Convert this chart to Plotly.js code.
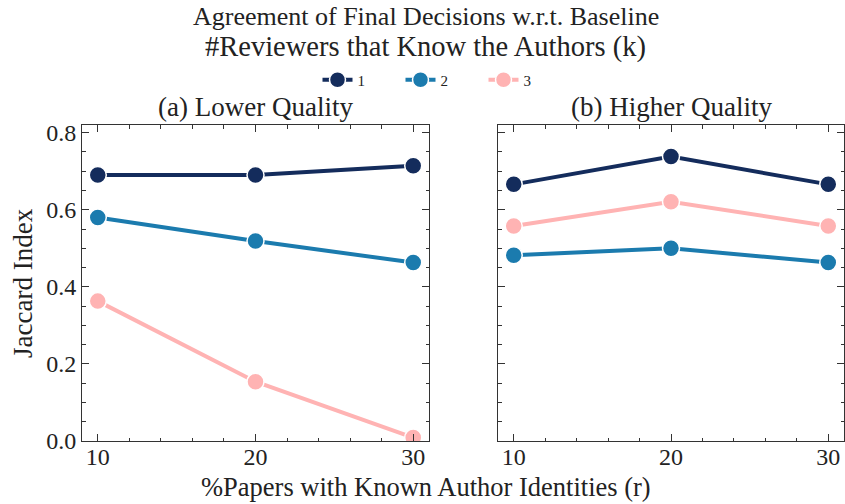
<!DOCTYPE html>
<html>
<head>
<meta charset="utf-8">
<script src="https://cdn.plot.ly/plotly-3.0.1.min.js"></script>
<style>html,body{margin:0;padding:0;background:#fff;}#chart{width:845px;height:504px;}</style>
</head>
<body>
<div id="chart"></div>
<script>
// Data
const xValues = [10, 20, 30];
const seriesNames = ["1", "2", "3"];
const seriesColors = ["#142c5c", "#1b7bae", "#ffb3b3"];
const lowerK1 = [0.690, 0.690, 0.714];
const lowerK2 = [0.580, 0.519, 0.463];
const lowerK3 = [0.363, 0.154, 0.009];
const higherK1 = [0.666, 0.738, 0.666];
const higherK2 = [0.482, 0.500, 0.463];
const higherK3 = [0.558, 0.621, 0.558];
const panelTitles = ["(a) Lower Quality", "(b) Higher Quality"];
const lower = [lowerK1, lowerK2, lowerK3];
const higher = [higherK1, higherK2, higherK3];

const FONT = "Liberation Serif, DejaVu Serif, serif";
const traces = [];
function mk(y, i, xa, ya, showlegend) {
  return {
    x: xValues, y: y, type: "scatter", mode: "lines+markers",
    name: seriesNames[i], showlegend: showlegend, legendgroup: seriesNames[i],
    xaxis: xa, yaxis: ya,
    line: {color: seriesColors[i], width: 4},
    marker: {color: seriesColors[i], size: 17, line: {color: "#ffffff", width: 1.5}}
  };
}
lower.forEach((y, i) => traces.push(mk(y, i, "x", "y", true)));
higher.forEach((y, i) => traces.push(mk(y, i, "x2", "y2", false)));

const axCommon = {
  showline: true, linecolor: "#333", linewidth: 1, mirror: "allticks",
  ticks: "inside", ticklen: 7, tickwidth: 1, tickcolor: "#333",
  showgrid: false, zeroline: false, ticklabelstandoff: 0,
  tickfont: {family: FONT, size: 24, color: "#222"}
};
const xAx = Object.assign({}, axCommon, {
  range: [9, 31], tickvals: [10, 20, 30], ticklabelstandoff: -6,
  minor: {dtick: 2, tick0: 10, ticks: "inside", ticklen: 3.5, tickcolor: "#333", showgrid: false}
});
const yAx = Object.assign({}, axCommon, {
  range: [0, 0.82], tickvals: [0, 0.2, 0.4, 0.6, 0.8], tickformat: ".1f",
  minor: {dtick: 0.05, tick0: 0, ticks: "inside", ticklen: 3.5, tickcolor: "#333", showgrid: false}
});

const layout = {
  width: 845, height: 504,
  margin: {l: 0, r: 0, t: 125, b: 63},
  paper_bgcolor: "#fff", plot_bgcolor: "#fff",
  font: {family: FONT, color: "#222"},
  xaxis: Object.assign({}, xAx, {domain: [82/845, 429/845], anchor: "y"}),
  yaxis: Object.assign({}, yAx, {anchor: "x"}),
  xaxis2: Object.assign({}, xAx, {domain: [498/845, 844/845], anchor: "y2"}),
  yaxis2: Object.assign({}, yAx, {anchor: "x2", showticklabels: false}),
  showlegend: true,
  legend: {
    orientation: "h", x: 442/845, xanchor: "center", y: (441-80)/316, yanchor: "middle",
    font: {family: FONT, size: 15, color: "#222"}, itemwidth: 30,
    entrywidth: 38, entrywidthmode: "pixels",
    bgcolor: "rgba(0,0,0,0)"
  },
  annotations: [
    {text: "Agreement of Final Decisions w.r.t. Baseline", xref: "paper", yref: "paper",
     x: 426/845, y: (441-17)/316, xanchor: "center", yanchor: "middle", showarrow: false,
     font: {family: FONT, size: 26, color: "#222"}},
    {text: "#Reviewers that Know the Authors (k)", xref: "paper", yref: "paper",
     x: 425/845, y: (441-47)/316, xanchor: "center", yanchor: "middle", showarrow: false,
     font: {family: FONT, size: 28.5, color: "#222"}},
    {text: panelTitles[0], xref: "paper", yref: "paper",
     x: 255/845, y: (441-107)/316, xanchor: "center", yanchor: "middle", showarrow: false,
     font: {family: FONT, size: 27, color: "#222"}},
    {text: panelTitles[1], xref: "paper", yref: "paper",
     x: 671/845, y: (441-107)/316, xanchor: "center", yanchor: "middle", showarrow: false,
     font: {family: FONT, size: 27, color: "#222"}},
    {text: "Jaccard Index", xref: "paper", yref: "paper", textangle: -90,
     x: 23/845, y: (441-283)/316, xanchor: "center", yanchor: "middle", showarrow: false,
     font: {family: FONT, size: 27, color: "#222"}},
    {text: "%Papers with Known Author Identities (r)", xref: "paper", yref: "paper",
     x: 426/845, y: -63/316, xanchor: "center", yanchor: "bottom", showarrow: false,
     font: {family: FONT, size: 26.5, color: "#222"}}
  ]
};
Plotly.newPlot("chart", traces, layout, {displayModeBar: false, staticPlot: true});
</script>
</body>
</html>
